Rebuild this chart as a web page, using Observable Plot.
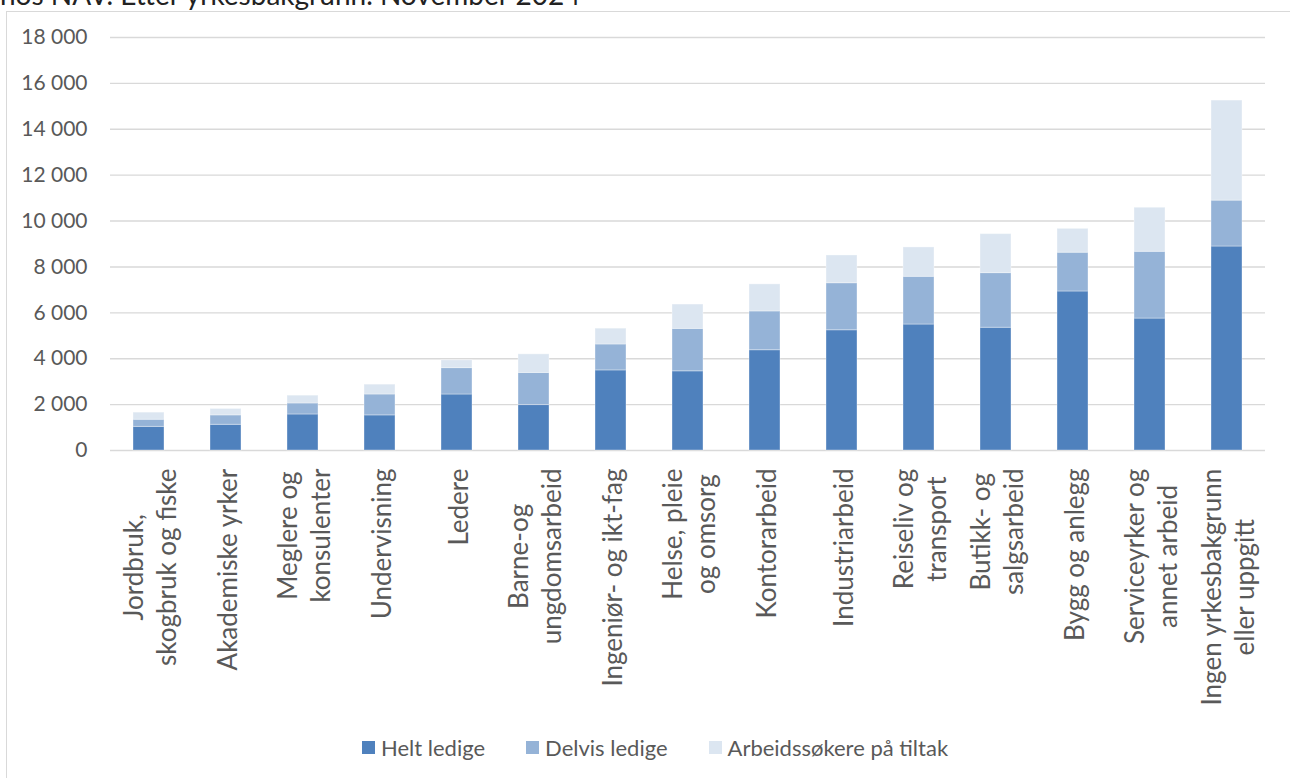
<!DOCTYPE html>
<html>
<head>
<meta charset="utf-8">
<script src="https://cdn.jsdelivr.net/npm/d3@7"></script>
<script src="https://cdn.jsdelivr.net/npm/@observablehq/plot@0.6"></script>
<style>
  html, body { margin: 0; padding: 0; background: #fff; overflow: hidden; }
  #wrap { position: relative; width: 1290px; height: 778px; overflow: hidden; font-family: Lato, "Open Sans", sans-serif; }
  #frame { position: absolute; left: 6px; top: 11px; width: 1300px; height: 800px; border: 1px solid #d9d9d9; box-sizing: border-box; }
  #title { position: absolute; left: 0; top: -20px; font-size: 28px; line-height: 28px; color: #222; white-space: nowrap; }
  #chart { position: absolute; left: 0; top: 0; }
  #legend { position: absolute; left: 362px; top: 734px; display: flex; align-items: center; font-size: 22px; color: #595959; }
  #legend .item { display: flex; align-items: center; margin-right: 41px; }
  #legend .sw { width: 13px; height: 13px; margin-right: 6px; }
</style>
</head>
<body>
<div id="wrap">
  <div id="frame"></div>
  <div id="title">hos NAV. Etter yrkesbakgrunn. November 2024</div>
  <div id="chart"></div>
  <div id="legend"></div>
</div>
<script>
const categories = [
  "Jordbruk,\nskogbruk og fiske",
  "Akademiske yrker",
  "Meglere og\nkonsulenter",
  "Undervisning",
  "Ledere",
  "Barne-og\nungdomsarbeid",
  "Ingeniør- og ikt-fag",
  "Helse, pleie\nog omsorg",
  "Kontorarbeid",
  "Industriarbeid",
  "Reiseliv og\ntransport",
  "Butikk- og\nsalgsarbeid",
  "Bygg og anlegg",
  "Serviceyrker og\nannet arbeid",
  "Ingen yrkesbakgrunn\neller uppgitt"
];
const seriesNames = ["Helt ledige", "Delvis ledige", "Arbeidssøkere på tiltak"];
const heltLedige   = [1030, 1120, 1570, 1530, 2440, 1980, 3490, 3450, 4370, 5240, 5490, 5350, 6930, 5750, 8890];
const delvisLedige = [310, 410, 480, 910, 1150, 1400, 1130, 1850, 1690, 2050, 2080, 2380, 1690, 2910, 2000];
const paaTiltak    = [310, 280, 340, 430, 340, 810, 690, 1060, 1180, 1210, 1280, 1700, 1040, 1920, 4360];
const yTicks = [0, 2000, 4000, 6000, 8000, 10000, 12000, 14000, 16000, 18000];
const colors = ["#4f81bd", "#95b3d7", "#dce6f1"];

const seriesValues = [heltLedige, delvisLedige, paaTiltak];
const data = [];
seriesNames.forEach((s, si) => {
  categories.forEach((c, ci) => data.push({cat: c, series: s, value: seriesValues[si][ci]}));
});

const fmt = d3.formatLocale({decimal: ",", thousands: "\u00a0", grouping: [3], currency: ["", ""]}).format(",d");

const labelFont = 26;
const ctx = document.createElement("canvas").getContext("2d");
ctx.font = `${labelFont}px Lato`;
const maxLineWidth = c => d3.max(c.split("\n"), l => ctx.measureText(l).width);

const labelMarks = categories.map(c => Plot.text([c], {
  x: d => d,
  text: d => d,
  frameAnchor: "bottom",
  rotate: -90,
  textAnchor: "middle",
  lineAnchor: "middle",
  lineHeight: 1.28,
  fontSize: labelFont,
  fill: "#595959",
  dy: 18 + maxLineWidth(c) / 2
}));

const chart = Plot.plot({
  width: 1290,
  height: 720,
  marginLeft: 110,
  marginRight: 25,
  marginTop: 37,
  marginBottom: 270,
  style: {fontFamily: "Lato, 'Open Sans', sans-serif", color: "#595959", background: "transparent"},
  x: {domain: categories, paddingInner: 0.6, paddingOuter: 0.3, axis: null},
  y: {domain: [0, 18000], ticks: yTicks, label: null},
  color: {domain: seriesNames, range: colors},
  marks: [
    Plot.gridY(yTicks, {stroke: "#d9d9d9", strokeOpacity: 1, strokeWidth: 1.4}),
    Plot.axisY({ticks: yTicks, tickSize: 0, tickPadding: 23, tickFormat: fmt, fontSize: 21, label: null}),
    Plot.barY(data, {x: "cat", y: "value", fill: "series", stroke: "white", strokeOpacity: 0.35, strokeWidth: 1}),
    ...labelMarks
  ]
});
document.getElementById("chart").appendChild(chart);

const legend = document.getElementById("legend");
seriesNames.forEach((s, i) => {
  const item = document.createElement("div");
  item.className = "item";
  const sw = document.createElement("div");
  sw.className = "sw";
  sw.style.background = colors[i];
  const t = document.createElement("span");
  t.textContent = s;
  item.appendChild(sw);
  item.appendChild(t);
  legend.appendChild(item);
});
</script>
</body>
</html>
